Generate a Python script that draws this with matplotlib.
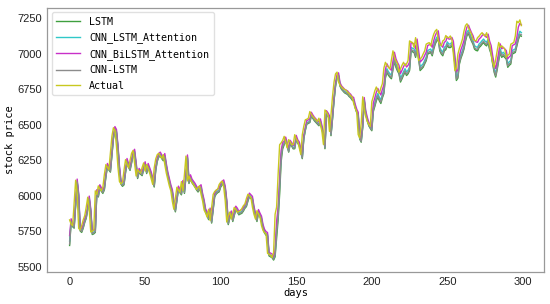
import numpy as np
import matplotlib
matplotlib.use("Agg")
import matplotlib.pyplot as plt

actual = [
 5830, 5800, 5790, 5950, 6110, 6010, 5770, 5760, 5790, 5830,
 5860, 5920, 5990, 5900, 5745, 5750, 5760, 6035, 6010, 6070,
 6050, 6035, 6060, 6150, 6220, 6200, 6185, 6300, 6420, 6480,
 6460, 6350, 6200, 6100, 6085, 6095, 6180, 6255, 6220, 6197,
 6250, 6300, 6320, 6230, 6140, 6185, 6170, 6160, 6200, 6232,
 6175, 6220, 6190, 6160, 6120, 6080, 6197, 6260, 6290, 6300,
 6280, 6265, 6290, 6220, 6160, 6115, 6070, 6035, 5960, 5905,
 5985, 6060, 6040, 6025, 6100, 6035, 6150, 6280, 6105, 6140,
 6110, 6095, 6080, 6060, 6045, 6060, 6070, 6010, 5965, 5900,
 5880, 5850, 5905, 5826, 5920, 6010, 6030, 6040, 6046, 6080,
 6095, 6104, 6060, 5965, 5815, 5860, 5885, 5837, 5880, 5919,
 5905, 5884, 5890, 5895, 5910, 5930, 5942, 5980, 6011, 6000,
 5988, 5920, 5870, 5837, 5895, 5870, 5849, 5790, 5756, 5740,
 5733, 5594, 5588, 5582, 5565, 5600, 5870, 5920, 6150, 6360,
 6373, 6390, 6419, 6380, 6338, 6396, 6380, 6361, 6362, 6431,
 6400, 6385, 6340, 6292, 6431, 6490, 6536, 6540, 6547, 6594,
 6575, 6559, 6547, 6535, 6524, 6547, 6500, 6454, 6362, 6605,
 6590, 6570, 6454, 6570, 6700, 6802, 6860, 6872, 6802, 6780,
 6768, 6756, 6750, 6744, 6730, 6721, 6705, 6698, 6652, 6617,
 6594, 6431, 6408, 6512, 6698, 6605, 6560, 6524, 6505, 6489,
 6663, 6700, 6740, 6767, 6740, 6721, 6760, 6790, 6900, 6941,
 6920, 6906, 6895, 6960, 7022, 6976, 6950, 6930, 6872, 6895,
 6920, 6941, 6918, 6930, 6953, 7092, 7085, 7080, 7046, 7115,
 7034, 6953, 6965, 6976, 7000, 7022, 7069, 7075, 7080, 7057,
 7104, 7140, 7162, 7173, 7092, 7070, 7057, 7092, 7100, 7130,
 7115, 7115, 7127, 7100, 6999, 6883, 6900, 6999, 7040, 7069,
 7104, 7160, 7200, 7213, 7185, 7160, 7139, 7104, 7095, 7092,
 7115, 7125, 7139, 7150, 7135, 7127, 7150, 7100, 7069, 6999,
 6941, 6907, 6960, 7023, 7081, 7046, 7057, 7045, 7034, 6976,
 6990, 6999, 7069, 7075, 7081, 7127, 7231, 7220, 7240, 7200,
]

cnn_bilstm_att = [
 5720, 5838, 5808, 5798, 5958, 6118, 6018, 5778, 5768, 5798,
 5838, 5868, 5928, 5998, 5908, 5753, 5758, 5768, 6043, 6018,
 6078, 6058, 6043, 6068, 6158, 6228, 6208, 6193, 6308, 6428,
 6488, 6468, 6358, 6208, 6108, 6093, 6103, 6188, 6263, 6228,
 6205, 6258, 6308, 6328, 6238, 6148, 6193, 6178, 6168, 6208,
 6240, 6183, 6228, 6198, 6168, 6128, 6088, 6205, 6268, 6298,
 6308, 6288, 6273, 6298, 6228, 6168, 6123, 6078, 6043, 5968,
 5913, 5993, 6068, 6048, 6033, 6108, 6043, 6158, 6288, 6113,
 6148, 6118, 6103, 6088, 6068, 6053, 6068, 6078, 6018, 5973,
 5908, 5888, 5858, 5913, 5834, 5928, 6018, 6038, 6048, 6054,
 6088, 6103, 6112, 6068, 5973, 5823, 5868, 5893, 5845, 5888,
 5927, 5913, 5892, 5898, 5903, 5918, 5938, 5950, 5988, 6019,
 6008, 5996, 5928, 5878, 5845, 5903, 5878, 5857, 5798, 5764,
 5748, 5741, 5602, 5596, 5590, 5573, 5610, 5820, 5915, 6120,
 6320, 6375, 6385, 6414, 6375, 6333, 6391, 6375, 6356, 6357,
 6426, 6395, 6380, 6335, 6287, 6426, 6485, 6531, 6535, 6542,
 6589, 6570, 6554, 6542, 6530, 6519, 6542, 6495, 6449, 6357,
 6600, 6585, 6565, 6449, 6565, 6695, 6797, 6855, 6867, 6797,
 6775, 6763, 6751, 6745, 6739, 6725, 6716, 6700, 6693, 6647,
 6612, 6589, 6426, 6403, 6507, 6693, 6600, 6555, 6519, 6500,
 6484, 6653, 6690, 6730, 6757, 6730, 6711, 6750, 6780, 6890,
 6931, 6910, 6896, 6885, 6950, 7012, 6966, 6940, 6920, 6862,
 6885, 6910, 6931, 6908, 6920, 6943, 7082, 7075, 7070, 7036,
 7105, 7024, 6943, 6955, 6966, 6990, 7012, 7059, 7065, 7070,
 7047, 7094, 7130, 7152, 7163, 7082, 7060, 7047, 7082, 7090,
 7120, 7105, 7105, 7117, 7090, 6989, 6873, 6890, 6989, 7030,
 7059, 7094, 7150, 7190, 7203, 7175, 7150, 7129, 7094, 7085,
 7082, 7105, 7115, 7129, 7140, 7125, 7117, 7140, 7090, 7059,
 6989, 6931, 6897, 6950, 7013, 7071, 7036, 7047, 7035, 7024,
 6966, 6980, 6989, 7059, 7065, 7071, 7117, 7190, 7215, 7205,
]

cnn_lstm_att = [
 5680, 5825, 5795, 5785, 5945, 6105, 6005, 5765, 5755, 5785,
 5825, 5855, 5915, 5985, 5895, 5740, 5745, 5755, 6030, 6005,
 6065, 6045, 6030, 6055, 6145, 6215, 6195, 6180, 6295, 6415,
 6475, 6455, 6345, 6195, 6095, 6080, 6090, 6175, 6250, 6215,
 6192, 6245, 6295, 6315, 6225, 6135, 6180, 6165, 6155, 6195,
 6227, 6170, 6215, 6185, 6155, 6115, 6075, 6192, 6255, 6285,
 6295, 6275, 6260, 6285, 6215, 6155, 6110, 6065, 6030, 5955,
 5900, 5980, 6055, 6035, 6020, 6095, 6030, 6145, 6275, 6100,
 6135, 6105, 6090, 6075, 6055, 6040, 6055, 6065, 6005, 5960,
 5895, 5875, 5845, 5900, 5821, 5915, 6005, 6025, 6035, 6041,
 6075, 6090, 6099, 6055, 5960, 5810, 5855, 5880, 5832, 5875,
 5914, 5900, 5879, 5885, 5890, 5905, 5925, 5937, 5975, 6006,
 5995, 5983, 5915, 5865, 5832, 5890, 5865, 5844, 5785, 5751,
 5735, 5728, 5589, 5583, 5577, 5560, 5590, 5770, 5880, 6080,
 6290, 6355, 6370, 6399, 6360, 6318, 6376, 6360, 6341, 6342,
 6411, 6380, 6365, 6320, 6272, 6411, 6470, 6516, 6520, 6527,
 6574, 6555, 6539, 6527, 6515, 6504, 6527, 6480, 6434, 6342,
 6585, 6570, 6550, 6434, 6550, 6680, 6782, 6840, 6852, 6782,
 6760, 6748, 6736, 6730, 6724, 6710, 6701, 6685, 6678, 6632,
 6597, 6574, 6411, 6388, 6492, 6678, 6585, 6540, 6504, 6485,
 6469, 6618, 6655, 6695, 6722, 6695, 6676, 6715, 6745, 6855,
 6896, 6875, 6861, 6850, 6915, 6977, 6931, 6905, 6885, 6827,
 6850, 6875, 6896, 6873, 6885, 6908, 7047, 7040, 7035, 7001,
 7070, 6989, 6908, 6920, 6931, 6955, 6977, 7024, 7030, 7035,
 7012, 7059, 7095, 7117, 7128, 7047, 7025, 7012, 7047, 7055,
 7085, 7070, 7070, 7082, 7055, 6954, 6838, 6855, 6954, 6995,
 7024, 7059, 7115, 7155, 7168, 7140, 7115, 7094, 7059, 7050,
 7047, 7070, 7080, 7094, 7105, 7090, 7082, 7105, 7055, 7024,
 6954, 6896, 6862, 6915, 6978, 7036, 7001, 7012, 7000, 6989,
 6931, 6945, 6954, 7024, 7030, 7036, 7082, 7130, 7160, 7150,
]

cnn_lstm = [
 5660, 5818, 5788, 5778, 5938, 6098, 5998, 5758, 5748, 5778,
 5818, 5848, 5908, 5978, 5888, 5733, 5738, 5748, 6023, 5998,
 6058, 6038, 6023, 6048, 6138, 6208, 6188, 6173, 6288, 6408,
 6468, 6448, 6338, 6188, 6088, 6073, 6083, 6168, 6243, 6208,
 6185, 6238, 6288, 6308, 6218, 6128, 6173, 6158, 6148, 6188,
 6220, 6163, 6208, 6178, 6148, 6108, 6068, 6185, 6248, 6278,
 6288, 6268, 6253, 6278, 6208, 6148, 6103, 6058, 6023, 5948,
 5893, 5973, 6048, 6028, 6013, 6088, 6023, 6138, 6268, 6093,
 6128, 6098, 6083, 6068, 6048, 6033, 6048, 6058, 5998, 5953,
 5888, 5868, 5838, 5893, 5814, 5908, 5998, 6018, 6028, 6034,
 6068, 6083, 6092, 6048, 5953, 5803, 5848, 5873, 5825, 5868,
 5907, 5893, 5872, 5878, 5883, 5898, 5918, 5930, 5968, 5999,
 5988, 5976, 5908, 5858, 5825, 5883, 5858, 5837, 5778, 5744,
 5728, 5721, 5582, 5576, 5570, 5553, 5585, 5740, 5860, 6050,
 6270, 6345, 6365, 6394, 6355, 6313, 6371, 6355, 6336, 6337,
 6406, 6375, 6360, 6315, 6267, 6406, 6465, 6511, 6515, 6522,
 6569, 6550, 6534, 6522, 6510, 6499, 6522, 6475, 6429, 6337,
 6580, 6565, 6545, 6429, 6545, 6675, 6777, 6835, 6847, 6777,
 6755, 6743, 6731, 6725, 6719, 6705, 6696, 6680, 6673, 6627,
 6592, 6569, 6406, 6383, 6487, 6673, 6580, 6535, 6499, 6480,
 6464, 6603, 6640, 6680, 6707, 6680, 6661, 6700, 6730, 6840,
 6881, 6860, 6846, 6835, 6900, 6962, 6916, 6890, 6870, 6812,
 6835, 6860, 6881, 6858, 6870, 6893, 7032, 7025, 7020, 6986,
 7055, 6974, 6893, 6905, 6916, 6940, 6962, 7009, 7015, 7020,
 6997, 7044, 7080, 7102, 7113, 7032, 7010, 6997, 7032, 7040,
 7070, 7055, 7055, 7067, 7040, 6939, 6823, 6840, 6939, 6980,
 7009, 7044, 7100, 7140, 7153, 7125, 7100, 7079, 7044, 7035,
 7032, 7055, 7065, 7079, 7090, 7075, 7067, 7090, 7040, 7009,
 6939, 6881, 6847, 6900, 6963, 7021, 6986, 6997, 6985, 6974,
 6916, 6930, 6939, 7009, 7015, 7021, 7067, 7110, 7140, 7135,
]

lstm = [
 5650, 5812, 5782, 5772, 5932, 6092, 5992, 5752, 5742, 5772,
 5812, 5842, 5902, 5972, 5882, 5727, 5732, 5742, 6017, 5992,
 6052, 6032, 6017, 6042, 6132, 6202, 6182, 6167, 6282, 6402,
 6462, 6442, 6332, 6182, 6082, 6067, 6077, 6162, 6237, 6202,
 6179, 6232, 6282, 6302, 6212, 6122, 6167, 6152, 6142, 6182,
 6214, 6157, 6202, 6172, 6142, 6102, 6062, 6179, 6242, 6272,
 6282, 6262, 6247, 6272, 6202, 6142, 6097, 6052, 6017, 5942,
 5887, 5967, 6042, 6022, 6007, 6082, 6017, 6132, 6262, 6087,
 6122, 6092, 6077, 6062, 6042, 6027, 6042, 6052, 5992, 5947,
 5882, 5862, 5832, 5887, 5808, 5902, 5992, 6012, 6022, 6028,
 6062, 6077, 6086, 6042, 5947, 5797, 5842, 5867, 5819, 5862,
 5901, 5887, 5866, 5872, 5877, 5892, 5912, 5924, 5962, 5993,
 5982, 5970, 5902, 5852, 5819, 5877, 5852, 5831, 5772, 5738,
 5722, 5715, 5576, 5570, 5564, 5547, 5570, 5700, 5830, 6010,
 6240, 6330, 6360, 6389, 6350, 6308, 6366, 6350, 6331, 6332,
 6401, 6370, 6355, 6310, 6262, 6401, 6460, 6506, 6510, 6517,
 6564, 6545, 6529, 6517, 6505, 6494, 6517, 6470, 6424, 6332,
 6575, 6560, 6540, 6424, 6540, 6670, 6772, 6830, 6842, 6772,
 6750, 6738, 6726, 6720, 6714, 6700, 6691, 6675, 6668, 6622,
 6587, 6564, 6401, 6378, 6482, 6668, 6575, 6530, 6494, 6475,
 6459, 6593, 6630, 6670, 6697, 6670, 6651, 6690, 6720, 6830,
 6871, 6850, 6836, 6825, 6890, 6952, 6906, 6880, 6860, 6802,
 6825, 6850, 6871, 6848, 6860, 6883, 7022, 7015, 7010, 6976,
 7045, 6964, 6883, 6895, 6906, 6930, 6952, 6999, 7005, 7010,
 6987, 7034, 7070, 7092, 7103, 7022, 7000, 6987, 7022, 7030,
 7060, 7045, 7045, 7057, 7030, 6929, 6813, 6830, 6929, 6970,
 6999, 7034, 7090, 7130, 7143, 7115, 7090, 7069, 7034, 7025,
 7022, 7045, 7055, 7069, 7080, 7065, 7057, 7080, 7030, 6999,
 6929, 6871, 6837, 6890, 6953, 7011, 6976, 6987, 6975, 6964,
 6906, 6920, 6929, 6999, 7005, 7011, 7057, 7100, 7130, 7125,
]

series_names = ["LSTM", "CNN_LSTM_Attention", "CNN_BiLSTM_Attention", "CNN-LSTM", "Actual"]
series_data = [lstm, cnn_lstm_att, cnn_bilstm_att, cnn_lstm, actual]
series_colors = ["#3f9f3f", "#30c8c8", "#c830c8", "#8c8c8c", "#c8c820"]

lens = [len(s) for s in series_data]
if len(set(lens)) != 1:
    raise ValueError("length mismatch: %s" % lens)

x_label = "days"
y_label = "stock price"

fig = plt.figure(figsize=(5.5, 3.04), dpi=100)
ax = fig.add_axes([0.0855, 0.105, 0.9035, 0.869])

for name, data, col in zip(series_names, series_data, series_colors):
    ax.plot(np.arange(len(data)), data, color=col, linewidth=1.0, label=name)

ax.set_yticks([5500, 5750, 6000, 6250, 6500, 6750, 7000, 7250])
ax.set_xticks([0, 50, 100, 150, 200, 250, 300])
ax.tick_params(length=0, pad=3.5, labelsize=8, colors="#222222")
for lab in ax.get_xticklabels() + ax.get_yticklabels():
    lab.set_fontfamily("Liberation Sans")
for sp in ax.spines.values():
    sp.set_color("#999999")
    sp.set_linewidth(0.9)

ax.set_xlabel(x_label, fontfamily="DejaVu Sans Mono", fontsize=7.5, labelpad=1)
ax.set_ylabel(y_label, fontfamily="DejaVu Sans Mono", fontsize=7.5, labelpad=2)

leg = ax.legend(loc="upper left", prop={"family": "DejaVu Sans Mono", "size": 7.2},
                handlelength=2.4, handletextpad=0.9, labelspacing=0.55,
                borderpad=0.45, borderaxespad=0.45, framealpha=0.9)
leg.get_frame().set_edgecolor("#dddddd")

fig.savefig("out.png", dpi=100)
